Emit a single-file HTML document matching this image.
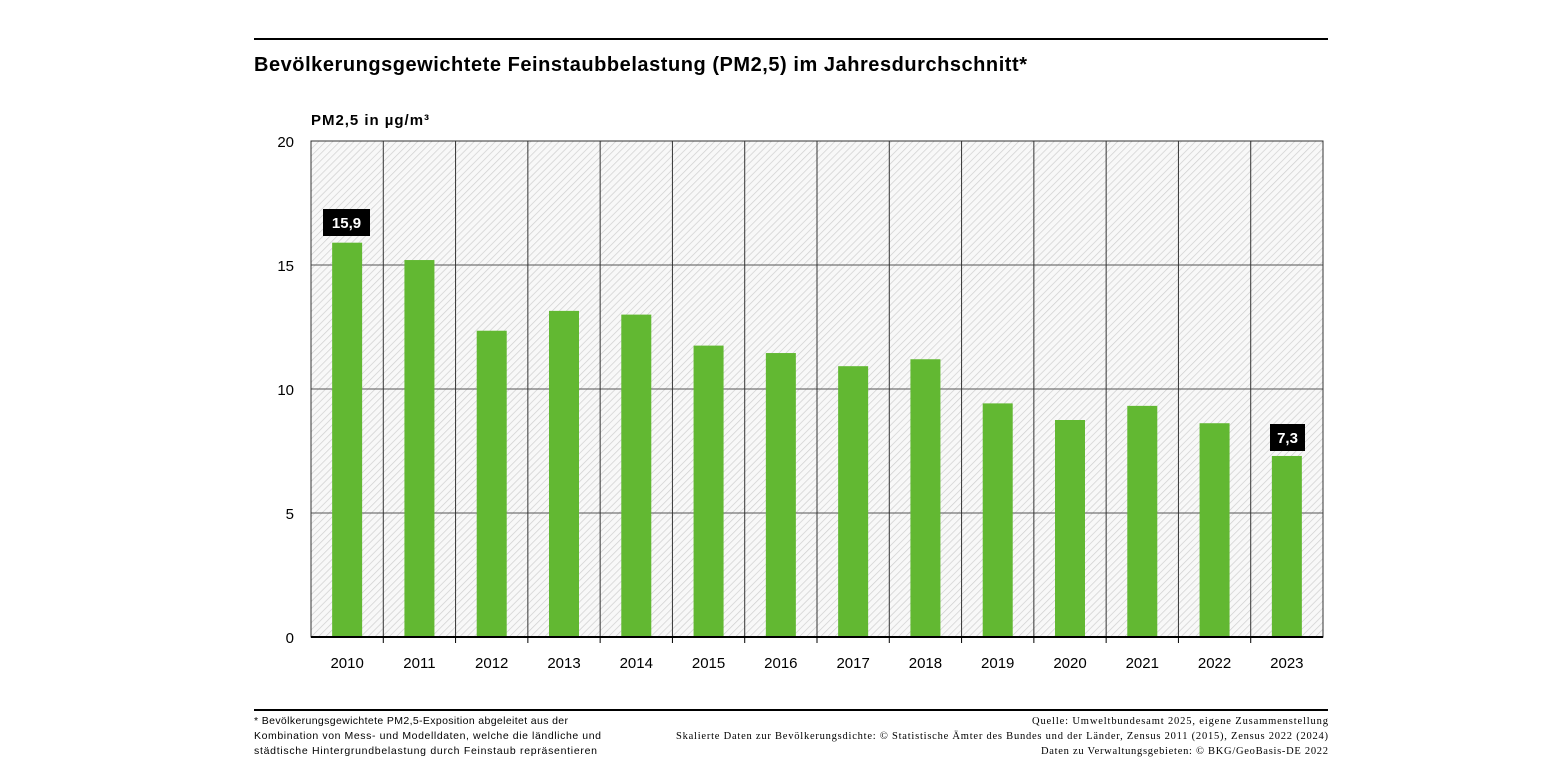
<!DOCTYPE html>
<html><head><meta charset="utf-8"><style>
body{margin:0;background:#fff;width:1545px;height:775px;overflow:hidden;font-family:"Liberation Sans",sans-serif}
</style></head><body>
<svg width="1545" height="775" xmlns="http://www.w3.org/2000/svg" font-family="Liberation Sans, sans-serif">
<defs>
<pattern id="h" width="5" height="5" patternUnits="userSpaceOnUse" patternTransform="rotate(45)">
<rect width="5" height="5" fill="#f8f8f8"/>
<line x1="0" y1="0" x2="0" y2="5" stroke="#cfcfcf" stroke-width="1.4"/>
</pattern>
</defs>
<line x1="254" y1="39" x2="1328" y2="39" stroke="#000" stroke-width="2"/>
<text x="254" y="71" font-size="20" font-weight="bold" textLength="773" lengthAdjust="spacing">Bevölkerungsgewichtete Feinstaubbelastung (PM2,5) im Jahresdurchschnitt*</text>
<text x="311" y="125" font-size="15" font-weight="bold" textLength="118" lengthAdjust="spacing">PM2,5 in µg/m³</text>
<rect x="311" y="141" width="1012" height="496" fill="url(#h)"/>
<g stroke="#555" stroke-width="1">
<line x1="311" y1="265" x2="1323" y2="265"/><line x1="311" y1="389" x2="1323" y2="389"/><line x1="311" y1="513" x2="1323" y2="513"/>
</g>
<g stroke="#333" stroke-width="1" id="v"></g>
<rect x="311" y="141" width="1012" height="496" fill="none" stroke="#333"/>
<g id="b"></g>
<line x1="311" y1="637" x2="1323" y2="637" stroke="#000" stroke-width="2"/>
<g font-size="15" text-anchor="end">
<text x="294" y="147">20</text><text x="294" y="271">15</text><text x="294" y="395">10</text><text x="294" y="519">5</text><text x="294" y="643">0</text>
</g>
<g id="t" font-size="15" text-anchor="middle"></g>
<rect x="323" y="209" width="47" height="27" fill="#000"/>
<text x="346.5" y="228" font-size="15" font-weight="bold" fill="#fff" text-anchor="middle">15,9</text>
<rect x="1270" y="424" width="35" height="27" fill="#000"/>
<text x="1287.5" y="443" font-size="15" font-weight="bold" fill="#fff" text-anchor="middle">7,3</text>
<line x1="254" y1="710" x2="1328" y2="710" stroke="#000" stroke-width="2"/>
<g font-size="10.5">
<text x="254" y="724" textLength="314" lengthAdjust="spacing">* Bevölkerungsgewichtete PM2,5-Exposition abgeleitet aus der</text>
<text x="254" y="739" textLength="347" lengthAdjust="spacing">Kombination von Mess- und Modelldaten, welche die ländliche und</text>
<text x="254" y="754" textLength="343" lengthAdjust="spacing">städtische Hintergrundbelastung durch Feinstaub repräsentieren</text>
</g>
<g font-size="10.5" font-family="Liberation Serif, serif">
<text x="1032" y="724" textLength="296" lengthAdjust="spacing">Quelle: Umweltbundesamt 2025, eigene Zusammenstellung</text>
<text x="676" y="739" textLength="652" lengthAdjust="spacing">Skalierte Daten zur Bevölkerungsdichte: © Statistische Ämter des Bundes und der Länder, Zensus 2011 (2015), Zensus 2022 (2024)</text>
<text x="1041" y="754" textLength="287" lengthAdjust="spacing">Daten zu Verwaltungsgebieten: © BKG/GeoBasis-DE 2022</text>
</g>
</svg>
<script>
var vals=[15.9,15.2,12.35,13.15,13.0,11.75,11.45,10.92,11.2,9.42,8.75,9.32,8.62,7.3];
var ns="http://www.w3.org/2000/svg",w=1012/14;
var v=document.getElementById('v'),b=document.getElementById('b'),t=document.getElementById('t');
function el(n,a,p){var e=document.createElementNS(ns,n);for(var k in a)e.setAttribute(k,a[k]);p.appendChild(e);return e;}
for(var i=0;i<14;i++){
 if(i>0){var x=311+i*w;el('line',{x1:x,y1:141,x2:x,y2:637},v);el('line',{x1:x,y1:637,x2:x,y2:643,stroke:'#000'},v);}
 var c=311+(i+0.5)*w,h=vals[i]*24.8;
 el('rect',{x:c-15,y:637-h,width:30,height:h,fill:'#62b832'},b);
 var tx=el('text',{x:c,y:668},t);tx.textContent=2010+i;
}
</script>
</body></html>
